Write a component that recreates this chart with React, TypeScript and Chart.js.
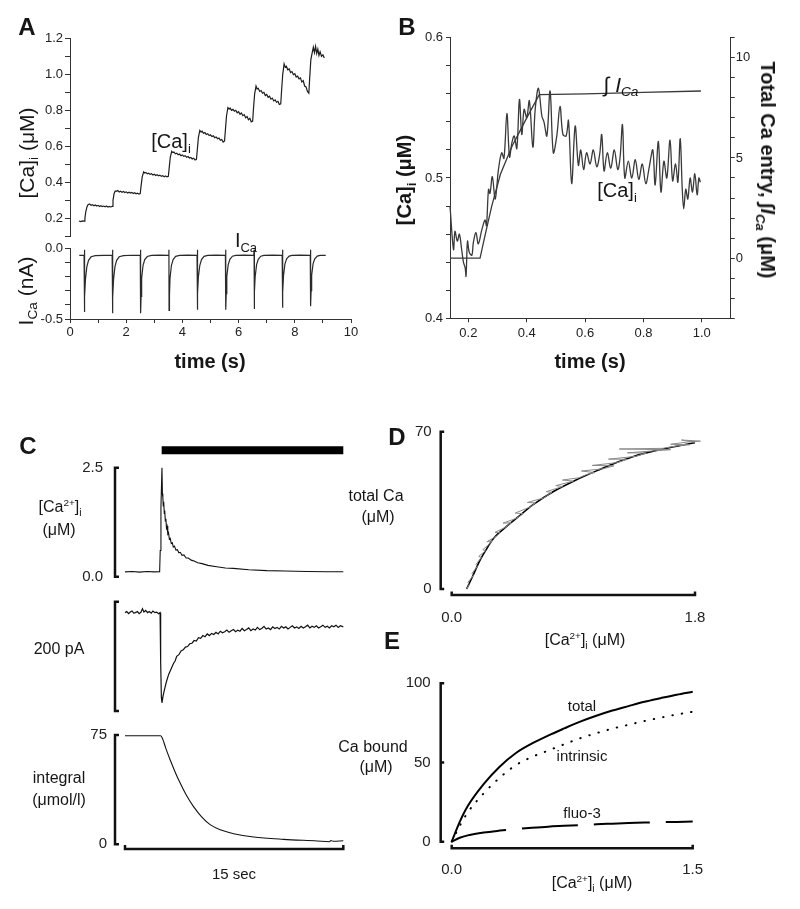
import React, { useEffect, useRef } from 'react';
import { Chart, registerables } from 'chart.js';

Chart.register(...registerables);

const FONT = '"Liberation Sans", Arial, Helvetica, sans-serif';
const W = 800;
const H = 909;
type Pt = [number, number];

// ---------------- Panel A ----------------
const A_X_TICKS = [0, 1, 2, 3, 4, 5, 6, 7, 8, 9, 10];
const A_X_LABELS = [0, 2, 4, 6, 8, 10];
const A_CA_TICKS = [0.1, 0.2, 0.3, 0.4, 0.5, 0.6, 0.7, 0.8, 0.9, 1.0, 1.1, 1.2];
const A_CA_LABELS = [0.2, 0.4, 0.6, 0.8, 1.0, 1.2];
const A_ICA_TICKS = [-0.5, -0.4, -0.3, -0.2, -0.1, 0];
const A_ICA_LABELS = [-0.5, 0];

const A_CA: Pt[] = [
  [0.32, 0.185], [0.38, 0.182], [0.45, 0.186], [0.5, 0.184], [0.53, 0.2], [0.56, 0.235], [0.6, 0.262], [0.64, 0.275],
  [0.7, 0.28], [0.75, 0.272], [0.8, 0.276], [0.85, 0.27], [0.9, 0.274], [0.95, 0.268], [1.0, 0.272], [1.05, 0.266],
  [1.1, 0.27], [1.15, 0.265], [1.2, 0.268], [1.25, 0.264], [1.3, 0.268], [1.35, 0.262], [1.4, 0.266], [1.45, 0.263], [1.5, 0.266],
  [1.53, 0.3], [1.57, 0.338], [1.61, 0.352], [1.65, 0.35], [1.7, 0.354], [1.75, 0.346], [1.8, 0.35], [1.85, 0.345],
  [1.9, 0.349], [1.95, 0.343], [2.0, 0.347], [2.05, 0.341], [2.1, 0.345], [2.15, 0.34], [2.2, 0.344], [2.25, 0.338],
  [2.3, 0.342], [2.35, 0.336], [2.4, 0.34], [2.45, 0.335], [2.5, 0.338],
  [2.53, 0.38], [2.57, 0.43], [2.62, 0.458], [2.66, 0.452], [2.7, 0.455], [2.75, 0.447], [2.8, 0.45], [2.85, 0.444],
  [2.9, 0.448], [2.95, 0.441], [3.0, 0.445], [3.05, 0.438], [3.1, 0.442], [3.15, 0.436], [3.2, 0.44], [3.25, 0.433],
  [3.3, 0.437], [3.35, 0.431], [3.4, 0.435], [3.45, 0.43], [3.5, 0.433],
  [3.53, 0.48], [3.57, 0.54], [3.62, 0.572], [3.66, 0.565], [3.7, 0.568], [3.75, 0.558], [3.8, 0.562], [3.85, 0.553],
  [3.9, 0.557], [3.95, 0.548], [4.0, 0.552], [4.05, 0.544], [4.1, 0.548], [4.15, 0.539], [4.2, 0.543], [4.25, 0.535],
  [4.3, 0.538], [4.35, 0.53], [4.4, 0.534], [4.45, 0.524], [4.5, 0.528],
  [4.53, 0.58], [4.57, 0.65], [4.62, 0.688], [4.66, 0.68], [4.7, 0.684], [4.75, 0.672], [4.8, 0.676], [4.85, 0.666],
  [4.9, 0.67], [4.95, 0.66], [5.0, 0.664], [5.05, 0.654], [5.1, 0.658], [5.15, 0.648], [5.2, 0.652], [5.25, 0.642],
  [5.3, 0.646], [5.35, 0.634], [5.4, 0.638], [5.45, 0.624], [5.5, 0.63],
  [5.53, 0.69], [5.57, 0.77], [5.62, 0.815], [5.66, 0.808], [5.7, 0.812], [5.75, 0.8], [5.8, 0.805], [5.85, 0.795],
  [5.9, 0.8], [5.95, 0.786], [6.0, 0.792], [6.05, 0.778], [6.1, 0.785], [6.15, 0.77], [6.2, 0.776], [6.25, 0.758],
  [6.3, 0.765], [6.35, 0.748], [6.4, 0.756], [6.45, 0.736], [6.5, 0.74],
  [6.53, 0.81], [6.57, 0.89], [6.62, 0.935], [6.66, 0.918], [6.7, 0.922], [6.75, 0.905], [6.8, 0.91], [6.85, 0.895],
  [6.9, 0.9], [6.95, 0.882], [7.0, 0.888], [7.05, 0.872], [7.1, 0.878], [7.15, 0.862], [7.2, 0.868], [7.25, 0.852],
  [7.3, 0.858], [7.35, 0.845], [7.4, 0.85], [7.45, 0.832], [7.5, 0.836],
  [7.53, 0.91], [7.57, 1.0], [7.62, 1.058], [7.66, 1.04], [7.7, 1.045], [7.75, 1.025], [7.8, 1.03], [7.85, 1.01],
  [7.9, 1.015], [7.95, 0.998], [8.0, 1.003], [8.05, 0.985], [8.1, 0.99], [8.15, 0.975], [8.2, 0.98], [8.25, 0.958],
  [8.3, 0.965], [8.35, 0.935], [8.4, 0.93], [8.45, 0.905], [8.5, 0.895],
  [8.53, 0.98], [8.57, 1.08], [8.62, 1.12], [8.66, 1.15], [8.7, 1.12], [8.74, 1.155], [8.78, 1.115], [8.82, 1.14],
  [8.86, 1.105], [8.9, 1.125], [8.95, 1.1], [9.0, 1.108], [9.05, 1.09],
];

const A_ICA: Pt[] = [
  [0.33, -0.05], [0.5, -0.05], [0.51, -0.01], [0.515, -0.45], [0.53, -0.34], [0.55, -0.22], [0.6, -0.13], [0.66, -0.085], [0.75, -0.06], [0.9, -0.052], [1.2, -0.05], [1.5, -0.05],
  [1.51, -0.01], [1.515, -0.46], [1.53, -0.35], [1.55, -0.22], [1.6, -0.13], [1.66, -0.085], [1.75, -0.06], [1.9, -0.052], [2.2, -0.049], [2.5, -0.05],
  [2.51, -0.01], [2.515, -0.46], [2.53, -0.34], [2.55, -0.21], [2.6, -0.12], [2.66, -0.08], [2.75, -0.058], [2.9, -0.05], [3.2, -0.048], [3.51, -0.05],
  [3.52, -0.01], [3.525, -0.44], [3.54, -0.33], [3.56, -0.21], [3.61, -0.12], [3.67, -0.08], [3.76, -0.057], [3.9, -0.05], [4.2, -0.048], [4.52, -0.05],
  [4.53, -0.01], [4.535, -0.435], [4.55, -0.32], [4.57, -0.2], [4.62, -0.12], [4.68, -0.08], [4.77, -0.057], [4.9, -0.05], [5.2, -0.048], [5.53, -0.05],
  [5.54, -0.01], [5.545, -0.435], [5.56, -0.32], [5.58, -0.2], [5.63, -0.115], [5.69, -0.078], [5.78, -0.056], [5.9, -0.05], [6.2, -0.048], [6.54, -0.05],
  [6.55, -0.01], [6.555, -0.43], [6.57, -0.31], [6.59, -0.2], [6.64, -0.115], [6.7, -0.078], [6.79, -0.056], [6.9, -0.05], [7.2, -0.048], [7.55, -0.05],
  [7.56, -0.01], [7.565, -0.42], [7.58, -0.31], [7.6, -0.19], [7.65, -0.11], [7.71, -0.075], [7.8, -0.055], [7.9, -0.05], [8.2, -0.048], [8.55, -0.05],
  [8.56, -0.01], [8.565, -0.41], [8.58, -0.3], [8.6, -0.19], [8.65, -0.11], [8.71, -0.075], [8.8, -0.055], [8.9, -0.05], [9.1, -0.05],
];

// ---------------- Panel B ----------------
const B_X_TICKS = [0.2, 0.4, 0.6, 0.8, 1.0];
const B_CA_TICKS = [0.4, 0.42, 0.44, 0.46, 0.48, 0.5, 0.52, 0.54, 0.56, 0.58, 0.6];
const B_CA_LABELS = [0.4, 0.5, 0.6];
const B_INT_TICKS = [-3, -2, -1, 0, 1, 2, 3, 4, 5, 6, 7, 8, 9, 10, 11];
const B_INT_LABELS = [0, 5, 10];

const B_CA: Pt[] = [
  [0.137, 0.48], [0.149, 0.449], [0.154, 0.462], [0.162, 0.455], [0.169, 0.46], [0.177, 0.449], [0.183, 0.44],
  [0.189, 0.436], [0.192, 0.43], [0.197, 0.455], [0.203, 0.447], [0.212, 0.445], [0.217, 0.454], [0.226, 0.461],
  [0.234, 0.453], [0.246, 0.463], [0.257, 0.47], [0.262, 0.466], [0.269, 0.492], [0.274, 0.489], [0.282, 0.501],
  [0.292, 0.485], [0.303, 0.506], [0.314, 0.518], [0.322, 0.514], [0.332, 0.546], [0.341, 0.515], [0.349, 0.525],
  [0.357, 0.53], [0.366, 0.521], [0.375, 0.556], [0.383, 0.531], [0.391, 0.549], [0.4, 0.543], [0.409, 0.555],
  [0.421, 0.522], [0.429, 0.549], [0.44, 0.564], [0.452, 0.544], [0.459, 0.54], [0.469, 0.53], [0.48, 0.562],
  [0.491, 0.518], [0.503, 0.53], [0.514, 0.551], [0.524, 0.531], [0.535, 0.53], [0.543, 0.541], [0.554, 0.496],
  [0.566, 0.537], [0.577, 0.509], [0.585, 0.52], [0.595, 0.506], [0.605, 0.518], [0.617, 0.51], [0.628, 0.52],
  [0.64, 0.508], [0.65, 0.517], [0.657, 0.531], [0.665, 0.505], [0.676, 0.518], [0.688, 0.507], [0.7, 0.52],
  [0.712, 0.506], [0.72, 0.515], [0.728, 0.538], [0.736, 0.5], [0.748, 0.512], [0.76, 0.5], [0.772, 0.513],
  [0.784, 0.499], [0.796, 0.51], [0.808, 0.496], [0.82, 0.508], [0.832, 0.52], [0.84, 0.495], [0.851, 0.526],
  [0.86, 0.49], [0.87, 0.512], [0.88, 0.5], [0.891, 0.527], [0.9, 0.498], [0.91, 0.51], [0.918, 0.497],
  [0.926, 0.528], [0.933, 0.492], [0.938, 0.478], [0.945, 0.492], [0.952, 0.485], [0.96, 0.5], [0.968, 0.49],
  [0.976, 0.503], [0.984, 0.488], [0.99, 0.5], [0.995, 0.497],
];

const B_INT: Pt[] = [
  [0.137, 0], [0.24, 0], [0.255, 1.0], [0.28, 2.6], [0.31, 4.2], [0.35, 5.6], [0.4, 7.0], [0.443, 8.16],
  [0.6, 8.2], [0.8, 8.27], [0.997, 8.34],
];

// ---------------- Panel C ----------------
const C_STIM = [2.52, 15];
const C_CA_LABELS = [0, 2.5];
const C_INT_LABELS = [0, 75];

const C_CA: Pt[] = [
  [0, 0.11], [0.5, 0.12], [1.0, 0.105], [1.5, 0.12], [2.0, 0.11], [2.38, 0.115], [2.42, 0.6], [2.47, 1.6], [2.54, 2.5],
  [2.57, 1.9], [2.6, 1.82], [2.63, 1.62], [2.66, 1.72], [2.7, 1.45], [2.73, 1.52], [2.77, 1.28], [2.81, 1.33],
  [2.85, 1.12], [2.89, 1.16], [2.94, 0.98], [2.99, 1.01], [3.05, 0.86], [3.11, 0.88], [3.18, 0.76], [3.25, 0.78],
  [3.32, 0.68], [3.4, 0.7], [3.5, 0.61], [3.6, 0.62], [3.7, 0.55], [3.8, 0.56], [3.92, 0.49], [4.05, 0.5], [4.2, 0.43],
  [4.35, 0.43], [4.55, 0.38], [4.75, 0.36], [5.0, 0.32], [5.3, 0.3], [5.7, 0.26], [6.3, 0.23], [6.9, 0.2], [7.44, 0.19],
  [8.5, 0.16], [9.74, 0.14], [11, 0.13], [12.5, 0.12], [14, 0.115], [15, 0.115],
];

const C_I: Pt[] = [
  [0, -20], [0.12, -18], [0.25, -22], [0.36, -19], [0.48, -17], [0.6, -21], [0.72, -20], [0.85, -18], [0.97, -22],
  [1.1, -19], [1.2, -13], [1.3, -19], [1.42, -16], [1.55, -20], [1.67, -18], [1.8, -21], [1.92, -17], [2.05, -20],
  [2.18, -19], [2.3, -22], [2.41, -20], [2.45, -110], [2.5, -175], [2.54, -185], [2.62, -172], [2.72, -160],
  [2.85, -146], [3.0, -133], [3.15, -124], [3.33, -113], [3.45, -108], [3.55, -100], [3.7, -97], [3.85, -90],
  [4.0, -88], [4.15, -83], [4.3, -82], [4.45, -77], [4.6, -76], [4.75, -71], [4.9, -72], [5.05, -66], [5.2, -67],
  [5.35, -62], [5.5, -64], [5.65, -59], [5.8, -62], [5.95, -58], [6.1, -60], [6.25, -56], [6.4, -59], [6.55, -54],
  [6.7, -57], [6.85, -55], [7.0, -52], [7.15, -56], [7.3, -53], [7.45, -51], [7.6, -55], [7.75, -52], [7.9, -54],
  [8.05, -49], [8.2, -53], [8.35, -51], [8.5, -48], [8.65, -53], [8.8, -50], [8.95, -52], [9.1, -47], [9.25, -51],
  [9.4, -49], [9.55, -45], [9.7, -50], [9.85, -48], [10.0, -51], [10.15, -46], [10.3, -49], [10.45, -47], [10.6, -50],
  [10.75, -45], [10.9, -48], [11.05, -46], [11.2, -50], [11.35, -47], [11.5, -44], [11.65, -48], [11.8, -46],
  [11.95, -49], [12.1, -45], [12.25, -48], [12.4, -46], [12.55, -43], [12.7, -48], [12.85, -45], [13.0, -47],
  [13.15, -44], [13.3, -48], [13.45, -46], [13.6, -43], [13.75, -47], [13.9, -45], [14.05, -48], [14.2, -44],
  [14.35, -46], [14.5, -43], [14.65, -47], [14.8, -44], [15, -46],
];

const C_INT: Pt[] = [
  [0, 74.5], [2.45, 74.5], [2.6, 72], [2.8, 66], [3.1, 58], [3.45, 49.5], [3.79, 42], [4.2, 34], [4.7, 26], [5.25, 19],
  [5.85, 13.5], [6.6, 9.8], [7.46, 7.3], [8.84, 5], [10.9, 3.4], [13.2, 2.3], [14.05, 1.8], [14.15, 2.6], [14.3, 2.1],
  [15, 2.4],
];

// ---------------- Panel D ----------------
const D_X_LABELS = [0, 1.8];
const D_Y_LABELS = [0, 70];
const D_RAW: Pt[] = [
  [0.11, 0], [0.13, 2], [0.12, 3], [0.16, 6], [0.15, 7], [0.19, 10], [0.18, 11], [0.22, 14], [0.2, 14.5], [0.25, 17],
  [0.23, 17.5], [0.28, 20], [0.3, 21.5], [0.26, 21], [0.33, 23.5], [0.36, 25], [0.32, 25.2], [0.4, 27.5], [0.44, 29.5],
  [0.38, 29.3], [0.48, 31.5], [0.53, 33.5], [0.47, 33.8], [0.58, 36.5], [0.62, 38.3], [0.56, 38.5], [0.68, 40.5],
  [0.74, 43], [0.7, 43.3], [0.82, 45.6], [0.77, 46], [0.9, 48], [0.82, 48.5], [0.94, 49.5], [1.0, 51], [1.06, 51.8],
  [0.96, 52.5], [1.12, 53.5], [1.2, 54.8], [1.04, 55], [1.22, 56.2], [1.3, 57.7], [1.16, 57.8], [1.36, 59], [1.44, 60.5],
  [1.3, 60.6], [1.5, 61.5], [1.62, 62], [1.24, 62.3], [1.56, 62.6], [1.68, 63.8], [1.76, 64.2], [1.62, 64.4],
  [1.74, 65.4], [1.84, 65.8], [1.7, 66.3], [1.8, 65.3],
];
const D_FIT: Pt[] = [
  [0.11, 0], [0.15, 5], [0.21, 12.9], [0.26, 18], [0.31, 22.6], [0.4, 27.5], [0.48, 31.5], [0.6, 37.4], [0.75, 43.3],
  [0.92, 48.5], [1.1, 53.3], [1.22, 56.3], [1.34, 58.9], [1.46, 60.9], [1.59, 62.6], [1.7, 64], [1.8, 65.1],
];

// ---------------- Panel E ----------------
const E_X_LABELS = [0, 1.5];
const E_Y_LABELS = [0, 50, 100];
const E_TOTAL: Pt[] = [
  [0, 0], [0.05, 12.5], [0.1, 22.5], [0.2, 36.5], [0.3, 47.5], [0.4, 56], [0.5, 62], [0.6, 67], [0.7, 71.5], [0.8, 75.8],
  [0.9, 79.5], [1.0, 82.8], [1.1, 85.6], [1.2, 88.3], [1.3, 90.6], [1.4, 92.8], [1.5, 94.7],
];
const E_INTRINSIC: Pt[] = [
  [0, 0], [0.05, 10], [0.1, 18.5], [0.2, 30.6], [0.3, 40.5], [0.4, 48.4], [0.5, 53.5], [0.6, 57.5], [0.7, 61.5],
  [0.8, 65.3], [0.9, 68.5], [1.0, 71.4], [1.1, 73.8], [1.2, 76.2], [1.3, 78.3], [1.4, 80.3], [1.5, 82],
];
const E_FLUO3: Pt[] = [
  [0, 0], [0.05, 2.5], [0.1, 4], [0.2, 5.8], [0.3, 7], [0.4, 8], [0.5, 8.8], [0.6, 9.5], [0.7, 10], [0.8, 10.5],
  [0.9, 11], [1.0, 11.4], [1.1, 11.8], [1.2, 12.1], [1.3, 12.3], [1.4, 12.5], [1.5, 12.7],
];

// ---------------- helpers ----------------
const bracketPlugin = {
  id: 'bracket',
  afterDraw(chart: any, _args: any, o: any) {
    if (!o || (o.y === undefined && o.x === undefined)) return;
    const { ctx, chartArea: a, scales } = chart;
    const cap = o.cap ?? 4;
    ctx.save();
    ctx.strokeStyle = '#111';
    ctx.lineWidth = o.width ?? 2.5;
    ctx.lineCap = 'butt';
    ctx.lineJoin = 'miter';
    if (o.y !== undefined) {
      const s = scales.y;
      const x0 = a.left - o.y;
      const t = s.getPixelForValue(s.max);
      const b = s.getPixelForValue(s.min);
      ctx.beginPath();
      ctx.moveTo(x0 + cap, t);
      ctx.lineTo(x0, t);
      ctx.lineTo(x0, b);
      ctx.lineTo(x0 + cap, b);
      ctx.stroke();
      const mids: number[] = o.yMid ? Array.from(o.yMid as number[]) : [];
      mids.forEach((v) => {
        const p = s.getPixelForValue(v);
        ctx.beginPath();
        ctx.moveTo(x0, p);
        ctx.lineTo(x0 + cap, p);
        ctx.stroke();
      });
    }
    if (o.x !== undefined) {
      const s = scales.x;
      const y0 = a.bottom + o.x;
      const l = s.getPixelForValue(s.min);
      const r = s.getPixelForValue(s.max);
      ctx.beginPath();
      ctx.moveTo(l, y0 - cap);
      ctx.lineTo(l, y0);
      ctx.lineTo(r, y0);
      ctx.lineTo(r, y0 - cap);
      ctx.stroke();
    }
    ctx.restore();
  },
};

type AxisSpec = {
  min: number;
  max: number;
  pos: 'left' | 'right' | 'bottom';
  ticks: number[];
  labels: number[];
  digits: number;
  tick?: number;
  pad?: number;
  font?: number;
  border?: boolean;
};

const AX_W = 70;
const AX_H = 50;

function axis(s: AxisSpec) {
  const tickLen = s.tick ?? 0;
  const has = (v: number) => s.labels.some((l) => Math.abs(l - v) < 1e-6);
  return {
    type: 'linear',
    position: s.pos,
    min: s.min,
    max: s.max,
    afterBuildTicks: (sc: any) => {
      sc.ticks = s.ticks.map((v) => ({ value: v }));
    },
    afterFit: (sc: any) => {
      if (s.pos === 'bottom') sc.height = AX_H;
      else sc.width = AX_W;
    },
    border: { display: s.border ?? true, color: '#333', width: 1 },
    grid: {
      display: true,
      drawOnChartArea: false,
      drawTicks: tickLen > 0,
      tickLength: tickLen,
      tickColor: '#333',
      tickWidth: 1,
    },
    ticks: {
      autoSkip: false,
      maxRotation: 0,
      minRotation: 0,
      padding: s.pad ?? 2,
      color: '#222',
      font: { family: FONT, size: s.font ?? 13 },
      callback: (v: number) => (has(v) ? Number(v).toFixed(s.digits) : ''),
    },
  };
}

function hidden(min: number, max: number) {
  return { type: 'linear', display: false, min, max };
}

function pad(l: number, t: number, r: number, b: number, left: number, right: number, bottom: number) {
  return { left: l - left, top: t, right: W - r - right, bottom: H - b - bottom };
}

function line(data: Pt[], color: string, width: number, extra: any = {}) {
  return {
    data: data.map(([x, y]) => ({ x, y })),
    showLine: true,
    borderColor: color,
    backgroundColor: color,
    borderWidth: width,
    pointRadius: 0,
    pointHoverRadius: 0,
    fill: false,
    tension: 0,
    clip: false,
    ...extra,
  };
}

function config(datasets: any[], scales: any, padding: any, bracket: any = {}) {
  return {
    type: 'scatter',
    data: { datasets },
    options: {
      responsive: false,
      maintainAspectRatio: false,
      animation: false,
      devicePixelRatio: 1,
      events: [],
      layout: { padding },
      plugins: { legend: { display: false }, tooltip: { enabled: false }, bracket },
      scales,
    },
    plugins: [bracketPlugin],
  };
}

// ---------------- charts ----------------
const makeATop = () =>
  config(
    [line(A_CA, '#1e1e1e', 1.2)],
    {
      x: hidden(0, 10),
      y: axis({ min: 0.1, max: 1.2, pos: 'left', ticks: A_CA_TICKS, labels: A_CA_LABELS, digits: 1, tick: 5, pad: 2 }),
    },
    pad(70, 38.3, 351, 236.3, AX_W, 0, 0)
  );

const makeABot = () =>
  config(
    [line(A_ICA, '#2a2a2a', 1.2)],
    {
      x: axis({ min: 0, max: 10, pos: 'bottom', ticks: A_X_TICKS, labels: A_X_LABELS, digits: 0, tick: 4, pad: 2 }),
      y: axis({ min: -0.5, max: 0, pos: 'left', ticks: A_ICA_TICKS, labels: A_ICA_LABELS, digits: 1, tick: 5, pad: 2 }),
    },
    pad(70, 248.3, 351, 319, AX_W, 0, AX_H)
  );

const makeB = () =>
  config(
    [line(B_CA, '#3a3a3a', 1.3, { tension: 0.35 }), { ...line(B_INT, '#3a3a3a', 1.3), yAxisID: 'y2' }],
    {
      x: axis({ min: 0.137, max: 1.099, pos: 'bottom', ticks: B_X_TICKS, labels: B_X_TICKS, digits: 1, tick: 4, pad: 3 }),
      y: axis({ min: 0.4, max: 0.6, pos: 'left', ticks: B_CA_TICKS, labels: B_CA_LABELS, digits: 1, tick: 4, pad: 3 }),
      y2: axis({ min: -3, max: 11, pos: 'right', ticks: B_INT_TICKS, labels: B_INT_LABELS, digits: 0, tick: 4, pad: 1 }),
    },
    pad(450, 37.7, 730.7, 318.3, AX_W, AX_W, AX_H)
  );

const makeCTop = () =>
  config(
    [
      line(C_CA, '#111', 1.1),
      line(
        C_STIM.map((t) => [t, 2.9] as Pt),
        '#000',
        8,
        { borderCapStyle: 'butt' }
      ),
    ],
    {
      x: hidden(0, 15),
      y: axis({ min: 0, max: 2.5, pos: 'left', ticks: C_CA_LABELS, labels: C_CA_LABELS, digits: 1, pad: 22, font: 15, border: false }),
    },
    pad(125, 467.7, 343.3, 576.7, AX_W, 0, 0),
    { y: 10, cap: 4, width: 2.5 }
  );

const makeCMid = () =>
  config(
    [line(C_I, '#111', 1.2)],
    { x: hidden(0, 15), y: hidden(-200, 0) },
    pad(125, 601.7, 343.3, 711, 0, 0, 0),
    { y: 10, cap: 4, width: 2.5 }
  );

const makeCBot = () =>
  config(
    [line(C_INT, '#111', 1.1, { cubicInterpolationMode: 'monotone' })],
    {
      x: hidden(0, 15),
      y: axis({ min: 0, max: 75, pos: 'left', ticks: C_INT_LABELS, labels: C_INT_LABELS, digits: 0, pad: 18, font: 15, border: false }),
    },
    pad(125, 735, 343.3, 844.3, AX_W, 0, 0),
    { y: 10, x: 4.7, cap: 4, width: 2.5 }
  );

const makeD = () =>
  config(
    [line(D_RAW, '#8a8a8a', 1), line(D_FIT, '#000', 1.6, { cubicInterpolationMode: 'monotone' })],
    {
      x: axis({ min: 0, max: 1.8, pos: 'bottom', ticks: D_X_LABELS, labels: D_X_LABELS, digits: 1, pad: 20, font: 15, border: false }),
      y: axis({ min: 0, max: 70, pos: 'left', ticks: D_Y_LABELS, labels: D_Y_LABELS, digits: 0, pad: 20, font: 15, border: false }),
    },
    pad(451.7, 431.7, 695, 589, AX_W, 0, AX_H),
    { y: 11, x: 6, cap: 3.5, width: 2.5 }
  );

const makeE = () =>
  config(
    [
      line(E_FLUO3, '#000', 2, { borderDash: [56, 16], cubicInterpolationMode: 'monotone' }),
      line(E_INTRINSIC, '#000', 2, { borderDash: [0.5, 9], borderCapStyle: 'round', cubicInterpolationMode: 'monotone' }),
      line(E_TOTAL, '#000', 2, { cubicInterpolationMode: 'monotone' }),
    ],
    {
      x: axis({ min: 0, max: 1.5, pos: 'bottom', ticks: E_X_LABELS, labels: E_X_LABELS, digits: 1, pad: 19, font: 15, border: false }),
      y: axis({ min: 0, max: 100, pos: 'left', ticks: E_Y_LABELS, labels: E_Y_LABELS, digits: 0, pad: 21, font: 15, border: false }),
    },
    pad(451.7, 683.3, 692.7, 841.7, AX_W, 0, AX_H),
    { y: 11, x: 6.6, cap: 3.5, width: 2.5, yMid: [50] }
  );

const CHARTS = [makeATop, makeABot, makeB, makeCTop, makeCMid, makeCBot, makeD, makeE];

function ChartCanvas({ make }: { make: () => any }) {
  const ref = useRef<HTMLCanvasElement>(null);
  useEffect(() => {
    if (!ref.current) return;
    const c = new Chart(ref.current, make());
    return () => c.destroy();
  }, [make]);
  return (
    <canvas
      ref={ref}
      width={W}
      height={H}
      style={{ position: 'absolute', left: 0, top: 0, width: W, height: H }}
    />
  );
}

// ---------------- text ----------------
function T({
  x,
  y,
  rot = 0,
  size = 16,
  bold = false,
  children,
}: {
  x: number;
  y: number;
  rot?: number;
  size?: number;
  bold?: boolean;
  children: React.ReactNode;
}) {
  return (
    <div
      style={{
        position: 'absolute',
        left: x,
        top: y,
        transform: `translate(-50%, -50%) rotate(${rot}deg)`,
        fontFamily: FONT,
        fontSize: size,
        fontWeight: bold ? 700 : 400,
        whiteSpace: 'nowrap',
        lineHeight: 1,
        color: '#161616',
      }}
    >
      {children}
    </div>
  );
}

const Sub = ({ children }: { children: React.ReactNode }) => (
  <span style={{ fontSize: '0.65em', verticalAlign: '-0.35em', lineHeight: 0 }}>{children}</span>
);
const Sup = ({ children }: { children: React.ReactNode }) => (
  <span style={{ fontSize: '0.62em', verticalAlign: '0.6em', lineHeight: 0 }}>{children}</span>
);

export default function App() {
  return (
    <div
      style={{
        position: 'absolute',
        left: 0,
        top: 0,
        width: W,
        height: H,
        background: '#fff',
        overflow: 'hidden',
      }}
    >
      {CHARTS.map((make, i) => (
        <ChartCanvas key={i} make={make} />
      ))}

      {/* Panel A */}
      <T x={27} y={27} size={24} bold>A</T>
      <T x={26} y={153} size={21} rot={-90}>
        [Ca]<Sub>i</Sub> (μM)
      </T>
      <T x={25} y={291} size={21} rot={-90}>
        I<Sub>Ca</Sub> (nA)
      </T>
      <T x={171} y={141} size={20}>
        [Ca]<Sub>i</Sub>
      </T>
      <T x={246} y={240} size={20}>
        I<Sub>Ca</Sub>
      </T>
      <T x={210} y={361} size={20} bold>time (s)</T>

      {/* Panel B */}
      <T x={407} y={27} size={24} bold>B</T>
      <T x={404} y={180} size={20} bold rot={-90}>
        [Ca]<Sub>i</Sub> (μM)
      </T>
      <T x={768} y={170} size={20} bold rot={90}>
        Total Ca entry, ∫<i>I</i>
        <Sub>
          <i>Ca</i>
        </Sub>{' '}
        (μM)
      </T>
      <T x={621} y={84} size={21}>
        ∫ <i>I</i>
        <Sub>
          <i>Ca</i>
        </Sub>
      </T>
      <T x={617} y={190} size={20}>
        [Ca]<Sub>i</Sub>
      </T>
      <T x={590} y={361} size={20} bold>time (s)</T>

      {/* Panel C */}
      <T x={28} y={446} size={24} bold>C</T>
      <T x={60} y={507} size={16}>
        [Ca<Sup>2+</Sup>]<Sub>i</Sub>
      </T>
      <T x={59} y={530} size={16}>(μM)</T>
      <T x={59} y={649} size={16}>200 pA</T>
      <T x={59} y={778} size={16}>integral</T>
      <T x={59} y={800} size={16}>(μmol/l)</T>
      <T x={234} y={873} size={15}>15 sec</T>

      {/* Panel D */}
      <T x={397} y={437} size={24} bold>D</T>
      <T x={376} y={496} size={16}>total Ca</T>
      <T x={378} y={517} size={16}>(μM)</T>
      <T x={585} y={640} size={16}>
        [Ca<Sup>2+</Sup>]<Sub>i</Sub> (μM)
      </T>

      {/* Panel E */}
      <T x={392} y={641} size={24} bold>E</T>
      <T x={373} y={747} size={16}>Ca bound</T>
      <T x={376} y={767} size={16}>(μM)</T>
      <T x={592} y={883} size={16}>
        [Ca<Sup>2+</Sup>]<Sub>i</Sub> (μM)
      </T>
      <T x={582} y={705} size={15}>total</T>
      <T x={582} y={755} size={15}>intrinsic</T>
      <T x={582} y={812} size={15}>fluo-3</T>
    </div>
  );
}
